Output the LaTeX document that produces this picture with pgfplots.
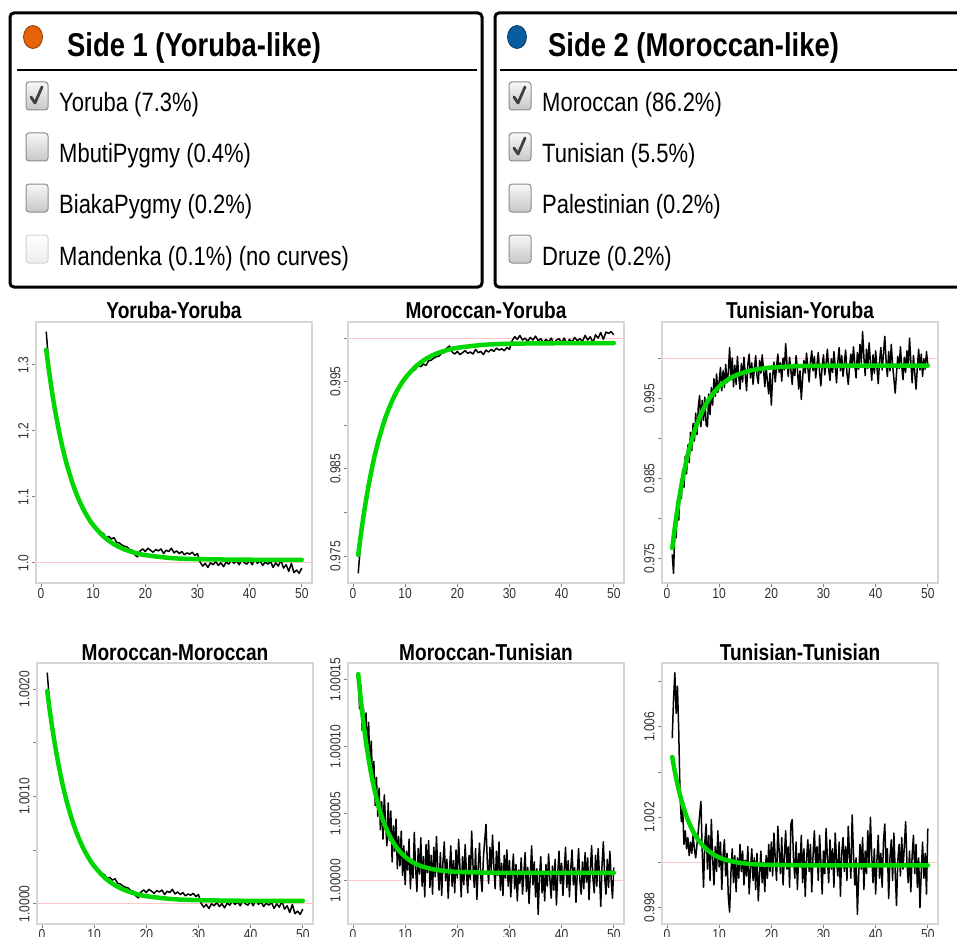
\documentclass[border=0pt]{standalone}
\usepackage{fontspec}
\setmainfont{Liberation Sans}[FakeStretch=0.83]
\usepackage{pgfplots}
\pgfplotsset{compat=1.18}
\definecolor{fitgreen}{RGB}{0,215,0}
\definecolor{refred}{RGB}{255,200,200}
\definecolor{sideorange}{RGB}{228,98,8}
\definecolor{sideblue}{RGB}{8,92,160}
\pgfplotsset{
  rplot/.style={
    scale only axis, width=276pt, height=261pt, anchor=north west,
    xmin=-0.96, xmax=51.96,
    xtick={0,10,20,30,40,50}, xticklabels={0,10,20,30,40,50},
    axis line style={draw=black!16, line width=1.2pt},
    tick style={draw=black!50, line width=0.8pt},
    major tick length=4pt, tick align=outside, tick pos=left,
    ticklabel style={font=\fontsize{14.5}{14.5}\selectfont, text=black!80},
    yticklabel style={rotate=90, anchor=south},
    xticklabel style={yshift=2.5pt},
    title style={font=\bfseries\fontsize{23}{23}\selectfont, at={(0.5,1)}, anchor=base, yshift=-2pt},
    /pgf/number format/assume math mode=true,
  },
  noisy/.style={draw=black, line width=1.5pt, line join=round, no markers},
  fit/.style={draw=fitgreen, line width=4.5pt, smooth, no markers, line cap=round},
  refline/.style={draw=refred, line width=0.8pt, no markers},
}
\newcommand{\cbox}[3]{\draw[rounded corners=3pt, line width=1pt, #3] ({#1-11},{-#2+14}) rectangle ({#1+11},{-#2-14});}
\newcommand{\cmark}[2]{\draw[line width=2.8pt, black!75, line cap=round, line join=round] ({#1-6},{-#2-1}) -- ({#1-2},{-#2-7}) -- ({#1+5},{-#2+9});}
\begin{document}
\begin{tikzpicture}[x=1pt,y=1pt]
\path[use as bounding box] (0,0) rectangle (957,-936);
% ---------- panel boxes ----------
\draw[line width=3pt, rounded corners=4pt] (10,-13) rectangle (482,-287);
\draw[line width=3pt, rounded corners=4pt] (495,-13) rectangle (975,-287);
\draw[line width=1.5pt] (17,-70) -- (477,-70);
\draw[line width=1.5pt] (500,-70) -- (962,-70);
\filldraw[fill=sideorange, draw=sideorange!60!black, line width=0.8pt] (33,-37) ellipse [x radius=9.5pt, y radius=11.5pt];
\filldraw[fill=sideblue, draw=sideblue!60!black, line width=0.8pt] (517,-37) ellipse [x radius=9.5pt, y radius=11.5pt];
\node[anchor=base west, inner sep=0, font=\bfseries\fontsize{33}{33}\selectfont] at (67,-57) {Side 1 (Yoruba-like)};
\node[anchor=base west, inner sep=0, font=\bfseries\fontsize{33}{33}\selectfont] at (548,-57) {Side 2 (Moroccan-like)};
\tikzset{enabledbox/.style={draw=black!45, top color=black!3, bottom color=black!22},
         disabledbox/.style={draw=black!18, top color=white, bottom color=black!7}}
\cbox{37}{96}{enabledbox}\cmark{37}{96}
\cbox{37}{147}{enabledbox}
\cbox{37}{198}{enabledbox}
\cbox{37}{249}{disabledbox}
\cbox{520}{96}{enabledbox}\cmark{520}{96}
\cbox{520}{147}{enabledbox}\cmark{520}{147}
\cbox{520}{198}{enabledbox}
\cbox{520}{249}{enabledbox}
\tikzset{item/.style={anchor=base west, inner sep=0, font=\fontsize{26.5}{26.5}\selectfont}}
\node[item] at (59,-112) {Yoruba (7.3\%)};
\node[item] at (59,-163) {MbutiPygmy (0.4\%)};
\node[item] at (59,-213) {BiakaPygmy (0.2\%)};
\node[item] at (59,-265) {Mandenka (0.1\%) (no curves)};
\node[item] at (542,-112) {Moroccan (86.2\%)};
\node[item] at (542,-163) {Tunisian (5.5\%)};
\node[item] at (542,-213) {Palestinian (0.2\%)};
\node[item] at (542,-265) {Druze (0.2\%)};
% ---------- Yoruba-Yoruba ----------
\begin{axis}[rplot, at={(36pt,-322pt)}, title={Yoruba-Yoruba},
  ymin=0.96936, ymax=1.36464, ytick={1.0,1.1,1.2,1.3}, yticklabels={1.0,1.1,1.2,1.3}]
\addplot[refline] coordinates {(-0.96,1) (51.96,1)};
\addplot[noisy] coordinates {(1,1.350) (1.5,1.300) (2,1.262) (2.5,1.245) (3,1.214) (3.5,1.200) (4,1.176) (4.5,1.165) (5,1.150) (5.5,1.132) (6,1.124) (6.5,1.108) (7,1.103) (7.5,1.090) (8,1.086) (8.5,1.074) (9,1.072) (9.5,1.064) (10,1.060) (10.5,1.054) (11,1.050) (11.5,1.046) (12,1.044) (12.5,1.038) (13,1.040) (13.5,1.036) (14,1.038) (14.5,1.031) (15,1.030) (15.5,1.027) (16,1.025) (16.5,1.024) (17,1.020) (17.5,1.019) (18,1.012) (18.5,1.009) (19,1.018) (19.5,1.021) (20,1.017) (20.5,1.022) (21,1.019) (21.5,1.016) (22,1.020) (22.5,1.018) (23,1.021) (23.5,1.014) (24,1.019) (24.5,1.017) (25,1.022) (25.5,1.015) (26,1.018) (26.5,1.014) (27,1.017) (27.5,1.012) (28,1.015) (28.5,1.013) (29,1.016) (29.5,1.011) (30,1.014) (30.5,1.001) (31,0.995) (31.5,0.999) (32,0.993) (32.5,1.000) (33,0.997) (33.5,1.002) (34,0.996) (34.5,1.000) (35,0.994) (35.5,1.001) (36,0.998) (36.5,1.004) (37,0.999) (37.5,1.003) (38,0.997) (38.5,1.005) (39,1.000) (39.5,0.998) (40,1.004) (40.5,0.997) (41,1.006) (41.5,0.999) (42,1.003) (42.5,0.996) (43,1.001) (43.5,0.998) (44,1.002) (44.5,0.993) (45,1.000) (45.5,0.995) (46,1.004) (46.5,0.992) (47,0.997) (47.5,0.987) (48,0.999) (48.5,0.985) (49,0.989) (49.5,0.984) (50,0.992)};
\addplot[fit] coordinates {(1,1.3225) (1.5,1.2922) (2,1.2648) (2.5,1.2400) (3,1.2177) (3.5,1.1974) (4,1.1790) (4.5,1.1624) (5,1.1474) (6,1.1215) (7,1.1003) (8,1.0829) (9,1.0687) (10,1.0571) (12,1.0397) (14,1.0281) (16,1.0203) (18,1.0151) (20,1.0116) (25,1.0071) (30,1.0055) (40,1.0046) (50,1.0045)};
\end{axis}
% ---------- Moroccan-Yoruba (y as (v-1)*1e3) ----------
\begin{axis}[rplot, at={(348pt,-322pt)}, title={Moroccan-Yoruba},
  ymin=-28.09, ymax=1.83, ytick={-25,-20,-15,-10,-5,0}, yticklabels={0.975,,0.985,,0.995,}]
\addplot[refline] coordinates {(-0.96,0) (51.96,0)};
\addplot[noisy] coordinates {(1,-26.98) (1.5,-23.16) (2,-20.25) (2.5,-18.95) (3,-16.59) (3.5,-15.52) (4,-13.69) (4.5,-12.85) (5,-11.70) (5.5,-10.33) (6,-9.71) (6.5,-8.49) (7,-8.11) (7.5,-7.12) (8,-6.81) (8.5,-5.89) (9,-5.74) (9.5,-5.13) (10,-4.82) (10.5,-4.36) (11,-4.06) (11.5,-3.76) (12,-3.60) (12.5,-3.15) (13,-3.30) (13.5,-2.99) (14,-3.15) (14.5,-2.61) (15,-2.54) (15.5,-2.30) (16,-2.15) (16.5,-2.07) (17,-1.76) (17.5,-1.69) (18,-1.15) (18.5,-0.93) (19,-1.61) (19.5,-1.84) (20,-1.54) (20.5,-1.91) (21,-1.69) (21.5,-1.46) (22,-1.76) (22.5,-1.61) (23,-1.84) (23.5,-1.31) (24,-1.69) (24.5,-1.54) (25,-1.91) (25.5,-1.39) (26,-1.61) (26.5,-1.31) (27,-1.54) (27.5,-1.16) (28,-1.39) (28.5,-1.24) (29,-1.46) (29.5,-1.09) (30,-1.31) (30.5,-0.32) (31,0.14) (31.5,-0.16) (32,0.29) (32.5,-0.24) (33,-0.01) (33.5,-0.39) (34,0.06) (34.5,-0.24) (35,0.21) (35.5,-0.32) (36,-0.09) (36.5,-0.54) (37,-0.16) (37.5,-0.47) (38,-0.01) (38.5,-0.62) (39,-0.24) (39.5,-0.09) (40,-0.54) (40.5,-0.01) (41,-0.69) (41.5,-0.16) (42,-0.47) (42.5,0.06) (43,-0.32) (43.5,-0.09) (44,-0.39) (44.5,0.29) (45,-0.24) (45.5,0.14) (46,-0.54) (46.5,0.36) (47,-0.01) (47.5,0.62) (48,-0.16) (48.5,0.67) (49,0.52) (49.5,0.72) (50,0.36)};
\addplot[fit] coordinates {(1,-24.87) (1.5,-22.55) (2,-20.47) (2.5,-18.58) (3,-16.86) (3.5,-15.31) (4,-13.91) (4.5,-12.64) (5,-11.50) (6,-9.52) (7,-7.90) (8,-6.57) (9,-5.49) (10,-4.60) (12,-3.28) (14,-2.39) (16,-1.79) (18,-1.40) (20,-1.13) (25,-0.79) (30,-0.66) (40,-0.60) (50,-0.58)};
\end{axis}
% ---------- Tunisian-Yoruba (y as (v-1)*1e3) ----------
\begin{axis}[rplot, at={(662pt,-322pt)}, title={Tunisian-Yoruba},
  ymin=-28.08, ymax=4.61, ytick={-25,-20,-15,-10,-5,0}, yticklabels={0.975,,0.985,,0.995,}]
\addplot[refline] coordinates {(-0.96,0) (51.96,0)};
\addplot[noisy] coordinates {(1,-24.50) (1.25,-26.87) (1.5,-21.60) (1.75,-22.40) (2,-17.70) (2.25,-20.20) (2.5,-15.90) (2.75,-17.50) (3,-13.90) (3.25,-16.10) (3.5,-12.20) (3.75,-14.40) (4,-10.80) (4.25,-13.00) (4.5,-9.20) (4.75,-11.50) (5,-8.10) (5.25,-10.30) (5.5,-6.80) (5.75,-9.50) (6,-6.00) (6.25,-4.60) (6.5,-8.50) (6.75,-5.20) (7,-7.70) (7.25,-4.80) (7.5,-8.30) (7.75,-8.50) (8,-4.40) (8.25,-7.00) (8.5,-3.60) (8.75,-5.80) (9,-2.50) (9.25,-4.70) (9.5,-1.90) (9.75,-4.20) (10,-2.80) (10.25,-1.10) (10.5,-4.00) (10.75,-1.50) (11,-3.60) (11.25,-0.70) (11.5,-3.00) (11.75,-1.80) (12,1.40) (12.25,-2.40) (12.5,0.10) (12.75,-3.50) (13,-0.80) (13.25,-3.20) (13.5,0.30) (13.75,-2.20) (14,-3.80) (14.25,-0.60) (14.5,-2.90) (14.75,0.20) (15,-2.00) (15.25,-4.00) (15.5,-0.70) (15.75,0.60) (16,-2.40) (16.25,-0.50) (16.5,-3.20) (16.75,-1.20) (17,0.40) (17.25,-2.10) (17.5,-3.10) (17.75,-0.20) (18,-1.80) (18.25,0.50) (18.5,-1.30) (18.75,-3.50) (19,-1.00) (19.25,-2.80) (19.5,-4.40) (19.75,-1.80) (20,-5.80) (20.25,-2.20) (20.5,-0.40) (20.75,-2.90) (21,-1.00) (21.25,0.60) (21.5,-1.70) (21.75,-0.50) (22,-2.80) (22.25,0.10) (22.5,-1.40) (22.75,1.90) (23,-0.60) (23.25,-2.20) (23.5,0.20) (23.75,-1.40) (24,-3.20) (24.25,-0.70) (24.5,-2.10) (24.75,0.40) (25,-1.30) (25.25,-3.80) (25.5,-1.50) (25.75,-5.10) (26,-2.40) (26.25,-0.20) (26.5,-1.80) (26.75,0.70) (27,-1.10) (27.25,-2.90) (27.5,-0.40) (27.75,1.00) (28,-1.50) (28.25,0.30) (28.5,-2.40) (28.75,-0.80) (29,0.80) (29.25,-1.60) (29.5,-3.40) (29.75,-0.90) (30,0.50) (30.25,-2.00) (30.5,-0.60) (30.75,1.20) (31,-1.30) (31.25,-2.70) (31.5,0.00) (31.75,-1.70) (32,0.90) (32.25,-0.90) (32.5,-3.00) (32.75,-0.40) (33,1.40) (33.25,-1.50) (33.5,0.40) (33.75,-2.20) (34,-0.50) (34.25,1.10) (34.5,-1.80) (34.75,-3.20) (35,-1.00) (35.25,0.60) (35.5,-1.10) (35.75,1.50) (36,-0.70) (36.25,-2.40) (36.5,0.80) (36.75,-1.30) (37,1.80) (37.25,-0.50) (37.5,3.40) (37.75,0.20) (38,-2.10) (38.25,1.20) (38.5,-1.20) (38.75,2.00) (39,-0.40) (39.25,-2.70) (39.5,0.50) (39.75,-1.80) (40,1.00) (40.25,-1.10) (40.5,-3.10) (40.75,-0.30) (41,1.40) (41.25,-1.40) (41.5,0.60) (41.75,2.80) (42,-0.20) (42.25,-2.20) (42.5,0.90) (42.75,-1.50) (43,1.80) (43.25,-0.80) (43.5,-2.50) (43.75,-4.30) (44,-1.80) (44.25,0.30) (44.5,-1.20) (44.75,1.50) (45,-0.90) (45.25,-2.60) (45.5,0.20) (45.75,-1.70) (46,1.00) (46.25,-1.10) (46.5,2.60) (46.75,-0.40) (47,-3.00) (47.25,0.40) (47.5,-1.80) (47.75,-3.80) (48,-1.00) (48.25,1.20) (48.5,-1.40) (48.75,0.60) (49,-2.20) (49.25,0.00) (49.5,-1.30) (49.75,0.90) (50,-0.70)};
\addplot[fit] coordinates {(1,-23.70) (1.5,-21.12) (2,-18.82) (2.5,-16.79) (3,-14.99) (3.5,-13.39) (4,-11.97) (4.5,-10.71) (5,-9.60) (6,-7.73) (7,-6.26) (8,-5.11) (9,-4.20) (10,-3.48) (11,-2.92) (12,-2.48) (13,-2.13) (14,-1.86) (16,-1.47) (18,-1.24) (20,-1.09) (25,-0.92) (30,-0.87) (40,-0.85) (50,-0.85)};
\end{axis}
% ---------- Moroccan-Moroccan (y as (v-1)*1e4) ----------
\begin{axis}[rplot, at={(37pt,-663pt)}, title={Moroccan-Moroccan}, title style={yshift=-1pt},
  ymin=-1.88, ymax=22.43, ytick={0,5,10,15,20}, yticklabels={1.0000,,1.0010,,1.0020}]
\addplot[refline] coordinates {(-0.96,0) (51.96,0)};
\addplot[noisy] coordinates {(1,21.53) (1.5,18.45) (2,16.11) (2.5,15.07) (3,13.16) (3.5,12.30) (4,10.82) (4.5,10.15) (5,9.23) (5.5,8.12) (6,7.63) (6.5,6.64) (7,6.33) (7.5,5.54) (8,5.29) (8.5,4.55) (9,4.43) (9.5,3.94) (10,3.69) (10.5,3.32) (11,3.08) (11.5,2.83) (12,2.71) (12.5,2.34) (13,2.46) (13.5,2.21) (14,2.34) (14.5,1.91) (15,1.85) (15.5,1.66) (16,1.54) (16.5,1.48) (17,1.23) (17.5,1.17) (18,0.74) (18.5,0.55) (19,1.11) (19.5,1.29) (20,1.05) (20.5,1.35) (21,1.17) (21.5,0.98) (22,1.23) (22.5,1.11) (23,1.29) (23.5,0.86) (24,1.17) (24.5,1.05) (25,1.35) (25.5,0.92) (26,1.11) (26.5,0.86) (27,1.05) (27.5,0.74) (28,0.92) (28.5,0.80) (29,0.98) (29.5,0.68) (30,0.86) (30.5,0.06) (31,-0.31) (31.5,-0.06) (32,-0.43) (32.5,0.00) (33,-0.18) (33.5,0.12) (34,-0.25) (34.5,0.00) (35,-0.37) (35.5,0.06) (36,-0.12) (36.5,0.25) (37,-0.06) (37.5,0.18) (38,-0.18) (38.5,0.31) (39,0.00) (39.5,-0.12) (40,0.25) (40.5,-0.18) (41,0.37) (41.5,-0.06) (42,0.18) (42.5,-0.25) (43,0.06) (43.5,-0.12) (44,0.12) (44.5,-0.43) (45,0.00) (45.5,-0.31) (46,0.25) (46.5,-0.49) (47,-0.18) (47.5,-0.80) (48,-0.06) (48.5,-0.92) (49,-0.68) (49.5,-0.98) (50,-0.49)};
\addplot[fit] coordinates {(1,19.83) (1.5,17.97) (2,16.29) (2.5,14.76) (3,13.39) (3.5,12.14) (4,11.01) (4.5,9.99) (5,9.07) (6,7.47) (7,6.17) (8,5.10) (9,4.23) (10,3.51) (12,2.44) (14,1.73) (16,1.25) (18,0.93) (20,0.71) (25,0.44) (30,0.34) (40,0.28) (50,0.28)};
\end{axis}
% ---------- Moroccan-Tunisian (y as (v-1)*1e5) ----------
\begin{axis}[rplot, at={(348pt,-663pt)}, title={Moroccan-Tunisian}, title style={yshift=-1pt},
  ymin=-3.22, ymax=16.22, ytick={0,5,10,15}, yticklabels={1.00000,1.00005,1.00010,1.00015}]
\addplot[refline] coordinates {(-0.96,0) (51.96,0)};
\addplot[noisy] coordinates {(1,15.5) (1.25,12.8) (1.5,14.6) (1.75,11.2) (2,12.9) (2.25,10.6) (2.5,12.5) (2.75,9.4) (3,11.8) (3.25,8.1) (3.5,10.4) (3.75,7.2) (4,8.9) (4.25,5.6) (4.5,7.7) (4.75,4.8) (5,6.9) (5.25,3.8) (5.5,5.9) (5.75,3.1) (6,6.4) (6.25,4.2) (6.5,2.6) (6.75,5.8) (7,3.0) (7.25,5.2) (7.5,1.4) (7.75,4.1) (8,2.2) (8.25,4.6) (8.5,0.9) (8.75,3.3) (9,1.1) (9.25,3.7) (9.5,0.4) (9.75,2.6) (10,-0.3) (10.25,2.2) (10.5,0.8) (10.75,3.1) (11,-0.6) (11.25,1.6) (11.5,0.2) (11.75,3.6) (12,1.0) (12.25,-0.8) (12.5,2.4) (12.75,0.5) (13,3.2) (13.25,-0.4) (13.5,1.8) (13.75,-1.2) (14,2.7) (14.25,0.6) (14.5,3.0) (14.75,-0.5) (15,1.9) (15.25,-1.0) (15.5,2.5) (15.75,0.3) (16,3.3) (16.25,0.9) (16.5,-0.7) (16.75,2.1) (17,-1.1) (17.25,1.4) (17.5,2.9) (17.75,0.0) (18,1.6) (18.25,-1.3) (18.5,0.8) (18.75,2.6) (19,-0.4) (19.25,1.5) (19.5,-0.9) (19.75,2.3) (20,0.2) (20.25,3.1) (20.5,1.0) (20.75,-1.2) (21,1.8) (21.25,-0.3) (21.5,2.7) (21.75,0.6) (22,-0.9) (22.25,1.9) (22.5,0.1) (22.75,3.7) (23,1.2) (23.25,-0.5) (23.5,2.4) (23.75,-1.4) (24,0.9) (24.25,2.8) (24.5,0.3) (24.75,-0.8) (25,1.7) (25.25,3.0) (25.5,4.2) (25.75,1.4) (26,-0.2) (26.25,2.5) (26.5,0.7) (26.75,3.4) (27,1.1) (27.25,-0.6) (27.5,2.2) (27.75,0.4) (28,2.9) (28.25,-0.7) (28.5,1.3) (28.75,-1.1) (29,1.9) (29.25,0.2) (29.5,2.3) (29.75,-0.4) (30,1.5) (30.25,-1.2) (30.5,0.6) (30.75,2.0) (31,-0.6) (31.25,1.2) (31.5,-1.5) (31.75,0.8) (32,-0.2) (32.25,1.7) (32.5,-1.0) (32.75,0.5) (33,2.1) (33.25,-0.8) (33.5,1.0) (33.75,-1.7) (34,0.4) (34.25,2.6) (34.5,-0.3) (34.75,1.4) (35,-1.2) (35.25,0.9) (35.5,-2.5) (35.75,0.3) (36,1.8) (36.25,-0.9) (36.5,0.7) (36.75,-1.5) (37,1.2) (37.25,-0.4) (37.5,2.0) (37.75,0.1) (38,-1.3) (38.25,1.1) (38.5,-0.7) (38.75,1.6) (39,-1.8) (39.25,0.5) (39.5,2.2) (39.75,-0.2) (40,1.3) (40.25,-1.1) (40.5,0.8) (40.75,2.5) (41,-0.5) (41.25,1.5) (41.5,-1.2) (41.75,0.9) (42,2.3) (42.25,-0.3) (42.5,1.0) (42.75,-1.6) (43,0.6) (43.25,2.4) (43.5,0.0) (43.75,-1.0) (44,1.4) (44.25,-0.6) (44.5,2.1) (44.75,-0.1) (45,1.7) (45.25,-1.4) (45.5,0.8) (45.75,2.6) (46,0.2) (46.25,-0.9) (46.5,1.9) (46.75,-0.4) (47,2.4) (47.25,0.5) (47.5,-1.9) (47.75,1.2) (48,2.9) (48.25,0.3) (48.5,-1.0) (48.75,1.6) (49,-0.5) (49.25,2.2) (49.5,0.1) (49.75,-1.3) (50,1.0)};
\addplot[fit] coordinates {(1,15.39) (1.5,13.46) (2,11.78) (2.5,10.31) (3,9.04) (3.5,7.94) (4,6.98) (4.5,6.15) (5,5.42) (5.5,4.79) (6,4.24) (7,3.35) (8,2.68) (9,2.17) (10,1.78) (11,1.49) (12,1.27) (13,1.10) (14,0.98) (16,0.81) (18,0.72) (20,0.66) (25,0.61) (30,0.59) (50,0.59)};
\end{axis}
% ---------- Tunisian-Tunisian (y as (v-1)*1e4) ----------
\begin{axis}[rplot, at={(662pt,-663pt)}, title={Tunisian-Tunisian}, title style={yshift=-1pt},
  ymin=-27.28, ymax=88.28, ytick={-20,0,20,40,60,80}, yticklabels={0.998,,1.002,,1.006,}]
\addplot[refline] coordinates {(-0.96,0) (51.96,0)};
\addplot[noisy] coordinates {(1,55) (1.25,72) (1.5,84) (1.75,66) (2,78) (2.25,58) (2.5,30) (2.75,18) (3,24) (3.25,8) (3.5,14) (3.75,6) (4,11) (4.25,3) (4.5,9) (4.75,4) (5,12) (5.25,6) (5.5,2) (5.75,8) (6,14) (6.25,21) (6.5,27) (6.75,5) (7,-11) (7.25,9) (7.5,17) (7.75,-3) (8,12) (8.25,-8) (8.5,19) (8.75,2) (9,-10) (9.25,7) (9.5,-4) (9.75,14) (10,-2) (10.25,9) (10.5,-12) (10.75,3) (11,10) (11.25,-6) (11.5,4) (11.75,-15) (12,-22) (12.25,-5) (12.5,6) (12.75,-9) (13,3) (13.25,-13) (13.5,2) (13.75,-7) (14,8) (14.25,-4) (14.5,5) (14.75,-10) (15,1) (15.25,-6) (15.5,7) (15.75,-14) (16,-3) (16.25,6) (16.5,-8) (16.75,2) (17,-12) (17.25,4) (17.5,-17) (17.75,-5) (18,5) (18.25,-9) (18.5,0) (18.75,-13) (19,3) (19.25,-7) (19.5,8) (19.75,-4) (20,9) (20.25,-6) (20.5,13) (20.75,2) (21,-8) (21.25,16) (21.5,5) (21.75,-5) (22,11) (22.25,-10) (22.5,3) (22.75,14) (23,-3) (23.25,7) (23.5,-11) (23.75,17) (24,19) (24.25,2) (24.5,-7) (24.75,9) (25,-12) (25.25,4) (25.5,-2) (25.75,12) (26,-9) (26.25,6) (26.5,-15) (26.75,1) (27,10) (27.25,-4) (27.5,8) (27.75,-13) (28,3) (28.25,14) (28.5,-1) (28.75,7) (29,-8) (29.25,12) (29.5,0) (29.75,-14) (30,5) (30.25,-5) (30.5,15) (30.75,2) (31,-9) (31.25,10) (31.5,-3) (31.75,6) (32,-11) (32.25,13) (32.5,1) (32.75,-6) (33,9) (33.25,-15) (33.5,4) (33.75,11) (34,-4) (34.25,7) (34.5,-8) (34.75,16) (35,3) (35.25,-7) (35.5,21) (35.75,4) (36,-10) (36.25,2) (36.5,-23) (36.75,-6) (37,8) (37.25,-3) (37.5,11) (37.75,-12) (38,5) (38.25,-5) (38.5,14) (38.75,-2) (39,20) (39.25,3) (39.5,-9) (39.75,6) (40,-14) (40.25,1) (40.5,12) (40.75,-7) (41,4) (41.25,-11) (41.5,9) (41.75,17) (42,-1) (42.25,6) (42.5,-16) (42.75,2) (43,10) (43.25,-8) (43.5,13) (43.75,-4) (44,-19) (44.25,1) (44.5,8) (44.75,-6) (45,11) (45.25,-3) (45.5,7) (45.75,18) (46,0) (46.25,-9) (46.5,5) (46.75,-13) (47,3) (47.25,12) (47.5,-5) (47.75,8) (48,-11) (48.25,2) (48.5,-20) (48.75,-4) (49,9) (49.25,-7) (49.5,4) (49.75,-14) (50,15)};
\addplot[fit] coordinates {(1,46.7) (1.5,40.2) (2,34.6) (2.5,29.8) (3,25.6) (3.5,22.0) (4,18.8) (4.5,16.1) (5,13.7) (5.5,11.7) (6,10.0) (7,7.1) (8,5.0) (9,3.4) (10,2.2) (11,1.3) (12,0.7) (13,0.2) (14,-0.2) (16,-0.7) (18,-1.0) (20,-1.1) (25,-1.25) (30,-1.3) (50,-1.3)};
\end{axis}
\end{tikzpicture}
\end{document}
